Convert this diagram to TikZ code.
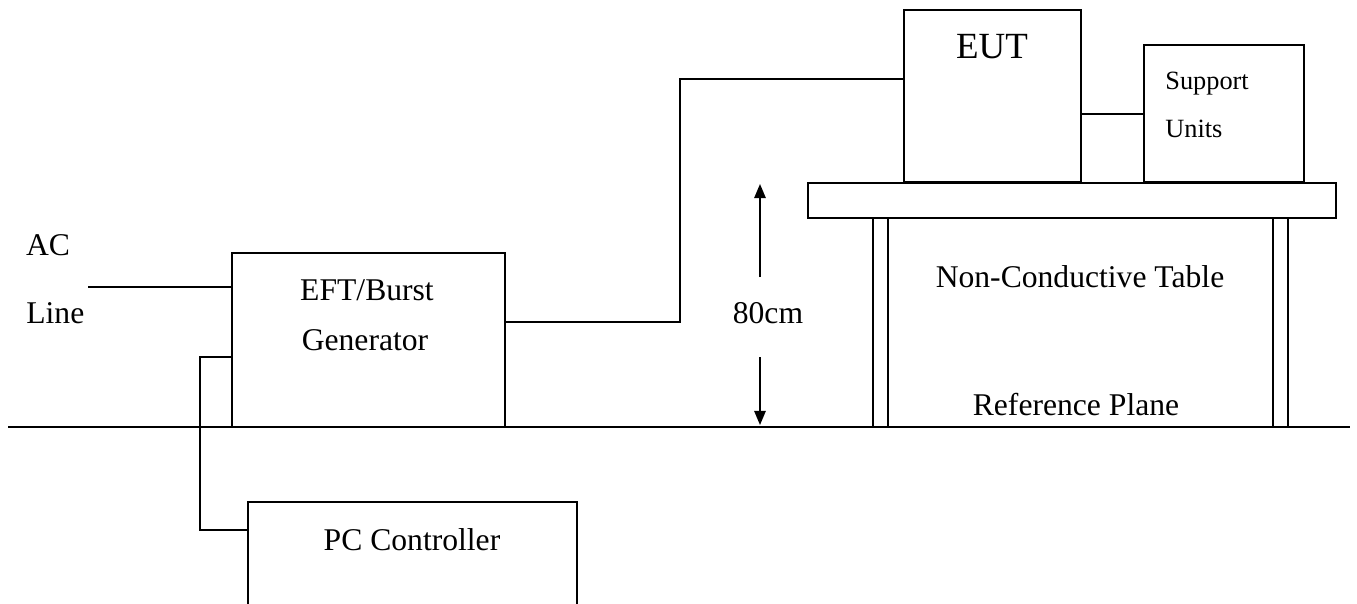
\documentclass[tikz,border=0pt]{standalone}
\usepackage{fontspec}
\setmainfont{Liberation Serif}
\usetikzlibrary{arrows.meta}

\begin{document}
\begin{tikzpicture}[x=0.02cm,y=-0.02cm,>={Triangle[length=8pt,width=6.5pt]},
  box/.style={draw,line width=1.1pt,inner sep=0pt},
  wire/.style={line width=1.4pt},
  txt/.style={font=\fontsize{18}{22}\selectfont,anchor=base,inner sep=0pt}]

\useasboundingbox (0,0) rectangle (1357,603);
\clip (0,0) rectangle (1357,603);

% Boxes
\node[box,minimum width=5.46cm,minimum height=3.48cm] (gen) at (368.5,340) {};
\node[box,minimum width=6.58cm,minimum height=4cm] (pc) at (412.5,602) {};
\node[box,minimum width=3.54cm,minimum height=3.44cm] (eut) at (992.5,96) {};
\node[box,minimum width=3.2cm,minimum height=2.74cm] (sup) at (1224,113.5) {};

% Table
\node[box,minimum width=10.56cm,minimum height=0.7cm] (top) at (1072,200.5) {};
\node[box,minimum width=0.3cm,minimum height=4.18cm] (legl) at (880.5,322.5) {};
\node[box,minimum width=0.3cm,minimum height=4.18cm] (legr) at (1280.5,322.5) {};

% Reference plane
\coordinate (gl) at (8,427);
\coordinate (gr) at (1350,427);
\draw[line width=1.1pt] (gl) -- (gr);

% AC line
\coordinate (acstub) at (88,287);
\coordinate (acend) at (104,287);
\draw[line width=0.6pt] (acstub) -- (acend);
\draw[wire] (acend) -- (acend -| gen.west);

% Cables
\draw[wire] (gen.east |- 0,322) -| (680,79) -- (eut.west |- 680,79);
\draw[wire] (gen.west |- 0,357) -| (200,530) -- (pc.west |- 200,530);
\draw[box] (eut.east |- 0,114) -- (sup.west |- 0,114);

% Height arrows
\coordinate (hu) at (760,277);
\coordinate (hutip) at (760,184);
\coordinate (hd) at (760,357);
\coordinate (hdtip) at (760,425);
\draw[->,line width=0.9pt] (hu) -- (hutip);
\draw[->,line width=0.9pt] (hd) -- (hdtip);

% Labels
\node[txt] (aclabel) at (48,255) {AC};
\node[txt,anchor=base west] (linelabel) at (26,323) {Line};
\node[txt] (genlabel) at (367,300) {EFT/Burst};
\node[txt] (genlabeltwo) at (365,350) {Generator};
\node[txt] (pclabel) at (412,550) {PC Controller};
\node[txt] (heightlabel) at (768,323) {80cm};
\node[txt] (tablelabel) at (1080,287) {Non-Conductive Table};
\node[txt] (planelabel) at (1076,415) {Reference Plane};
\node[txt,font=\fontsize{21}{25}\selectfont] (eutlabel) at (992,58) {EUT};
\node[txt,anchor=base west,font=\fontsize{15}{18}\selectfont] (suplabel) at (1165,89) {Support};
\node[txt,anchor=base west,font=\fontsize{15}{18}\selectfont] (suplabeltwo) at (1165,137) {Units};

\end{tikzpicture}
\end{document}
